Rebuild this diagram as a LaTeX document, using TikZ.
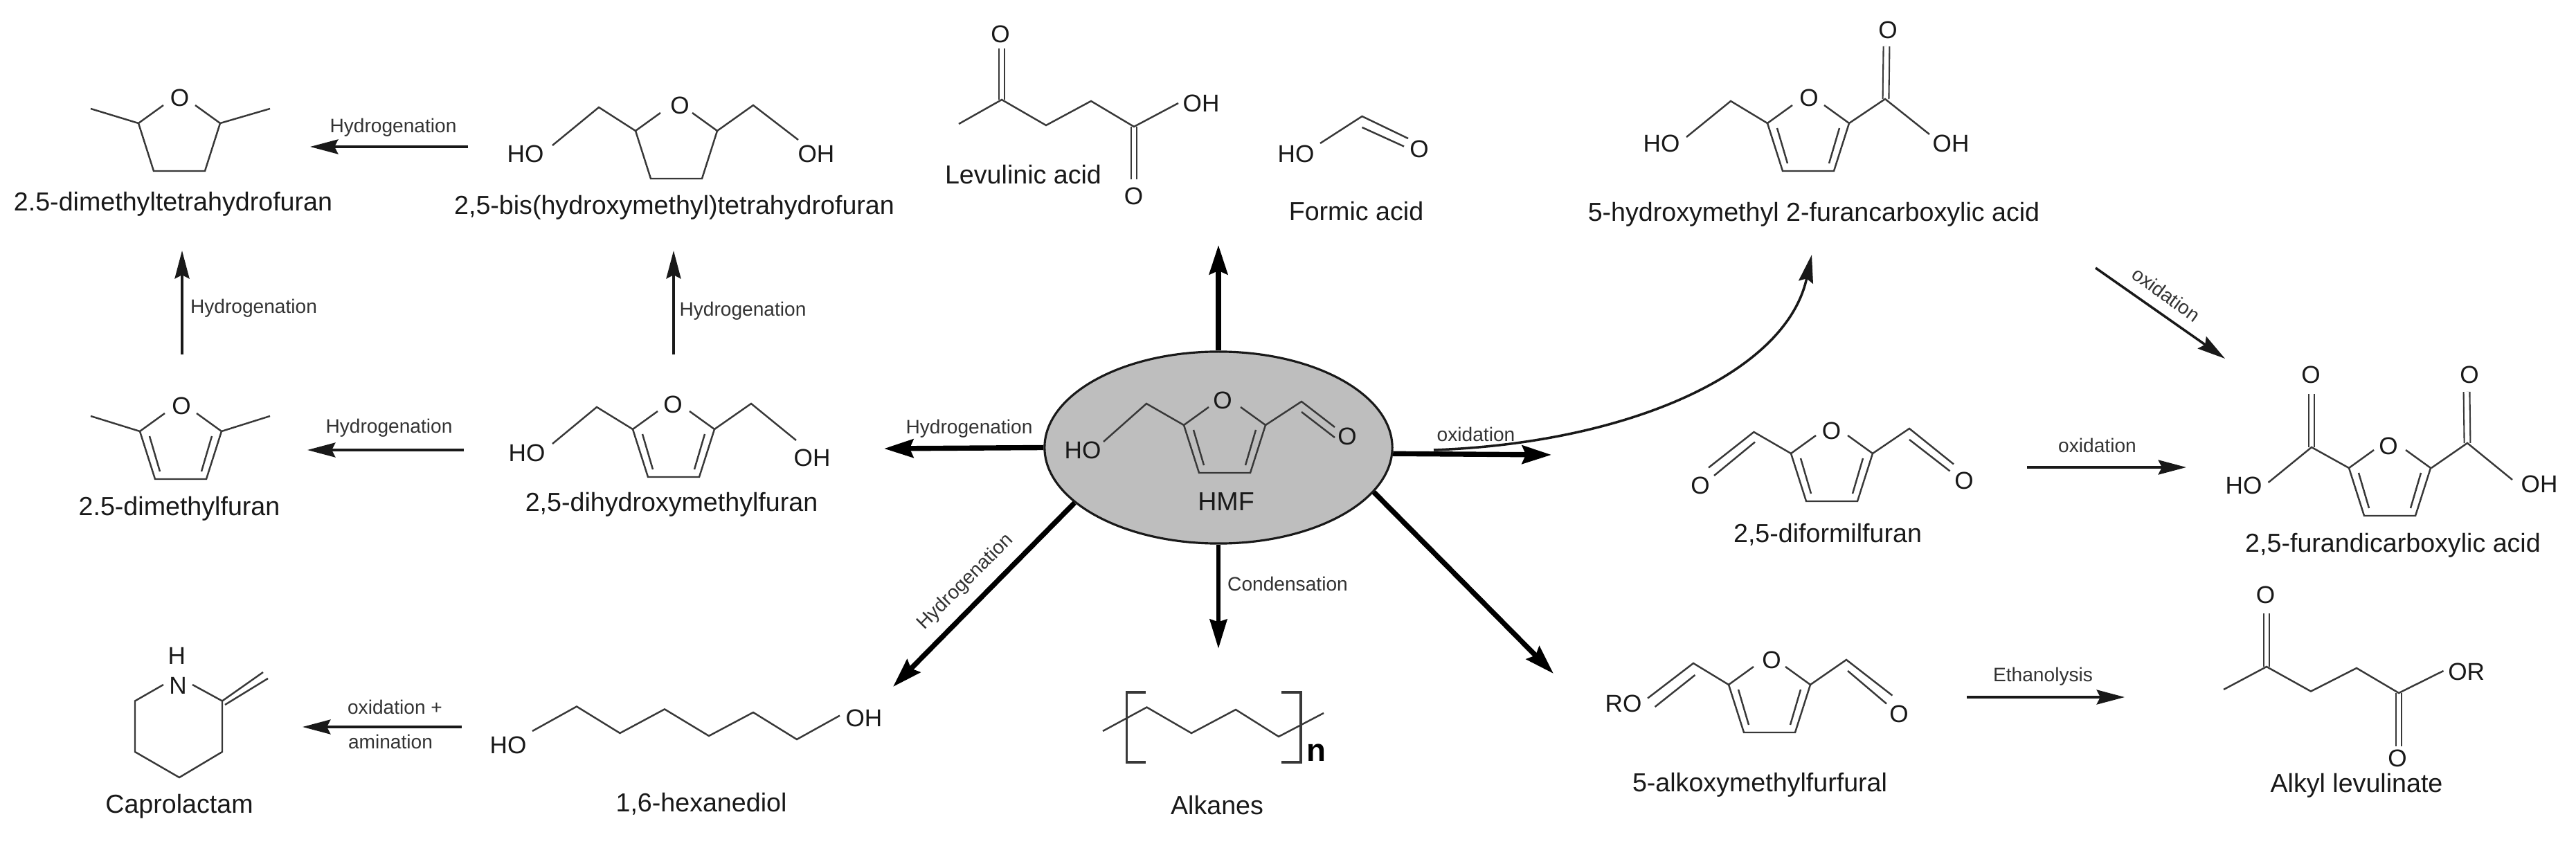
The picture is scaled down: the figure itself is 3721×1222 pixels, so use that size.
\documentclass[tikz,border=0pt]{standalone}
\usepackage{fontspec}
\setmainfont{Liberation Sans}
\usetikzlibrary{arrows.meta,shapes.geometric}
\definecolor{hmfgrey}{HTML}{BEBEBE}
\definecolor{inkc}{HTML}{383838}
\tikzset{
  bond/.style={draw=inkc,line width=0.7pt,line join=miter},
  dbl/.style={draw=inkc,line width=0.6pt,double=white,double distance=1.9pt},
  atom/.style={inner sep=0pt,font=\fontsize{10}{12}\selectfont,text=black!90},
  chem/.style={inner sep=0pt,font=\fontsize{10.7}{13}\selectfont,text=black!90},
  rxn/.style={inner sep=0pt,font=\fontsize{8}{10}\selectfont,text=black!80},
  thinarrow/.style={draw=black!90,line width=1pt,-{Stealth[length=11.5pt,width=6pt,inset=1.5pt]}},
  thickarrow/.style={draw=black,line width=2.1pt,-{Stealth[length=12pt,width=7.5pt,inset=1.5pt]}},
  midarrow/.style={draw=black,line width=1.8pt,-{Stealth[length=12pt,width=7pt,inset=1pt]}},
}
\newcommand{\thfring}[2]{\begin{scope}[shift={(#1,#2)}]
  \draw[bond] (-23,11)--(-59,37)--(-37,106)--(37,106)--(59,37)--(23,11);
\end{scope}}
\newcommand{\furanring}[2]{\begin{scope}[shift={(#1,#2)}]
  \draw[bond] (-23,11)--(-59,37)--(-37,106)--(37,106)--(59,37)--(23,11);
  \draw[bond] (-45,44)--(-30,95) (45,44)--(30,95);
\end{scope}}
\begin{document}
\begin{tikzpicture}[x=0.01cm,y=-0.01cm]
\path[use as bounding box] (0,0) rectangle (3721,1222);

% centre
\node[ellipse,draw=black!90,line width=0.9pt,fill=hmfgrey,minimum width=5.02cm,minimum height=2.77cm,inner sep=0pt] (hmf) at (1760,646.5) {};
\furanring{1769}{577}
\draw[bond] (1710,614)--(1656,583)--(1594,638) (1828,614)--(1880,580)--(1928,617) (1880,595)--(1928,632);
\node[atom] (hmfO) at (1766,578) {O};
\node[atom] (hmfHO) at (1564,650) {HO};
\node[atom] (hmfO2) at (1946,630) {O};
\node[chem] (hmfname) at (1771,725) {HMF};

% 2,5-dimethyltetrahydrofuran
\thfring{259}{141}
\draw[bond] (200,178)--(131,157) (318,178)--(390,157);
\node[atom] (aO) at (259.5,141) {O};
\node[chem] (aname) at (250,295) {2.5-dimethyltetrahydrofuran};

% bis(hydroxymethyl)tetrahydrofuran
\thfring{977}{152}
\draw[bond] (918,189)--(865,155)--(798,210) (1036,189)--(1088,152)--(1153,202);
\node[atom] (bO) at (982,152) {O};
\node[atom] (bHO) at (759,222) {HO};
\node[atom] (bOH) at (1179,222) {OH};
\node[chem] (bname) at (974,300) {2,5-bis(hydroxymethyl)tetrahydrofuran};

% 2,5-dimethylfuran
\furanring{261}{586}
\draw[bond] (202,623)--(131,601) (320,623)--(390,601);
\node[atom] (cO) at (262,586) {O};
\node[chem] (cname) at (259,735) {2.5-dimethylfuran};

% dihydroxymethylfuran
\furanring{973}{583}
\draw[bond] (914,620)--(862,588)--(798,641) (1032,620)--(1085,583)--(1150,636);
\node[atom] (dO) at (972,584) {O};
\node[atom] (dHO) at (761,654) {HO};
\node[atom] (dOH) at (1173,661) {OH};
\node[chem] (dname) at (970,729) {2,5-dihydroxymethylfuran};

% Levulinic acid
\draw[dbl] (1447,144)--(1447,70);
\draw[dbl] (1638,183)--(1638,259);
\draw[bond] (1385,179)--(1447,144)--(1511,181)--(1576,146)--(1638,183)--(1702,149);
\node[atom] (eO) at (1445,49) {O};
\node[atom] (eOH) at (1735,149) {OH};
\node[atom] (eO2) at (1637.5,283.5) {O};
\node[chem] (ename) at (1478,252) {Levulinic acid};

% Formic acid
\draw[bond] (1907,207)--(1967.5,168)--(2034,200) (1967.5,184)--(2028,211.5);
\node[atom] (fHO) at (1872,222) {HO};
\node[atom] (fO) at (2050,215.5) {O};
\node[chem] (fname) at (1959,305) {Formic acid};

% 5-hydroxymethyl 2-furancarboxylic acid
\draw[dbl] (2724,143)--(2725,67);
\furanring{2612}{141}
\draw[bond] (2436,198)--(2500,146)--(2553,178) (2671,178)--(2723,143)--(2787,194);
\node[atom] (gHO) at (2400,207.6) {HO};
\node[atom] (gO) at (2613,141) {O};
\node[atom] (gO2) at (2727,43.5) {O};
\node[atom] (gOH) at (2818,207.6) {OH};
\node[chem] (gname) at (2620,310) {5-hydroxymethyl 2-furancarboxylic acid};

% 2,5-furandicarboxylic acid
\draw[dbl] (3339,646)--(3339,569);
\draw[dbl] (3564,640)--(3563,566);
\furanring{3452}{639}
\draw[bond] (3276.5,697)--(3339,646)--(3393,676) (3512,676)--(3564,640)--(3629,693);
\node[atom] (hO) at (3450,644) {O};
\node[atom] (hO2) at (3338,541) {O};
\node[atom] (hO3) at (3567,541) {O};
\node[atom] (hHO) at (3241,701) {HO};
\node[atom] (hOH) at (3668,699) {OH};
\node[chem] (hname) at (3456.5,788) {2,5-furandicarboxylic acid};

% 2,5-diformilfuran
\furanring{2646}{618}
\draw[bond] (2468,675.5)--(2533.4,624)--(2587,655) (2705,655)--(2758,619)--(2822,670.5);
\draw[bond] (2535,638.5)--(2476,687) (2758,635)--(2816.6,680.5);
\node[atom] (iO) at (2645.5,622) {O};
\node[atom] (iO2) at (2456,701) {O};
\node[atom] (iO3) at (2837,694) {O};
\node[chem] (iname) at (2640,772.5) {2,5-diformilfuran};

% 5-alkoxymethylfurfural
\furanring{2556}{952}
\draw[bond] (2380,1008.6)--(2446,958)--(2497,989) (2615,989)--(2667,953)--(2733.4,1004.6);
\draw[bond] (2448.5,975)--(2390.6,1021) (2669,969)--(2725,1016.5);
\node[atom] (jO) at (2559,953) {O};
\node[atom] (jRO) at (2345,1016.5) {RO};
\node[atom] (jO2) at (2743,1031) {O};
\node[chem] (jname) at (2542,1133.5) {5-alkoxymethylfurfural};

% Alkyl levulinate
\draw[dbl] (3274,963)--(3274,886);
\draw[dbl] (3465,1001)--(3465,1078);
\draw[bond] (3212,996)--(3274,963)--(3338,998.6)--(3404,965)--(3465,1001)--(3529.5,969);
\node[atom] (kO) at (3272.4,859) {O};
\node[atom] (kOR) at (3562.6,970) {OR};
\node[atom] (kO2) at (3463,1095) {O};
\node[chem] (kname) at (3404,1135) {Alkyl levulinate};

% Alkanes
\draw[bond] (1593,1056)--(1656.5,1021.6)--(1721,1059)--(1785,1025)--(1847,1064)--(1912,1030);
\draw[draw=inkc,line width=1pt] (1655,1000)--(1627.5,1000)--(1627.5,1101)--(1655,1101);
\draw[draw=inkc,line width=1pt] (1851,1000)--(1879,1000)--(1879,1101)--(1851,1101);
\node[inner sep=0pt,font=\fontsize{13}{15}\selectfont\bfseries] (lN) at (1901,1087) {n};
\node[chem] (lname) at (1758,1163) {Alkanes};

% 1,6-hexanediol
\draw[bond] (769,1056)--(833,1020.5)--(895.5,1059)--(960,1024.4)--(1024,1063)--(1088,1029)--(1151,1068)--(1213,1033.6);
\node[atom] (mHO) at (734,1076) {HO};
\node[atom] (mOH) at (1248,1037) {OH};
\node[chem] (mname) at (1013,1161) {1,6-hexanediol};

% Caprolactam
\draw[bond] (236,989)--(195,1012.5)--(195,1086)--(259,1123)--(321,1086)--(321,1012.5)--(278,989);
\draw[bond] (321,1012.5)--(380,971) (325,1018)--(387,980);
\node[atom] (nH) at (255.4,947) {H};
\node[atom] (nN) at (257,990) {N};
\node[chem] (nname) at (259,1165) {Caprolactam};

% arrow end points
\coordinate (t1) at (448,212);   \coordinate (s1) at (676,212);
\coordinate (s2) at (263,512);   \coordinate (t2) at (263,362);
\coordinate (s3) at (973,512);   \coordinate (t3) at (973,362);
\coordinate (s4) at (670,650);   \coordinate (t4) at (444,650);
\coordinate (t5) at (1277,648);
\coordinate (t6) at (1760,354);
\coordinate (t7) at (1760,937);
\coordinate (t8) at (1290,992);
\coordinate (t9) at (2244,973);
\coordinate (t10) at (2241,657);
\coordinate (s11) at (2071,650); \coordinate (t11) at (2617,368);
\coordinate (s12) at (3027,387); \coordinate (t12) at (3214,518);
\coordinate (s13) at (2928,675); \coordinate (t13) at (3158,675);
\coordinate (s14) at (2841,1007);\coordinate (t14) at (3069,1007);
\coordinate (s15) at (667,1050); \coordinate (t15) at (437,1050);

\draw[thinarrow] (s1)--(t1);
\draw[thinarrow] (s2)--(t2);
\draw[thinarrow] (s3)--(t3);
\draw[thinarrow] (s4)--(t4);
\draw[thickarrow] (hmf.180)--(t5);
\draw[thickarrow] (hmf.north)--(t6);
\draw[midarrow] (hmf.south)--(t7);
\draw[thickarrow] (hmf.201)--(t8);
\draw[thickarrow] (hmf.-16)--(t9);
\draw[thickarrow] (hmf.-2.4)--(t10);
\draw[thinarrow] (s11) .. controls (2350,640) and (2580,540) .. (t11);
\draw[thinarrow] (s12)--(t12);
\draw[thinarrow] (s13)--(t13);
\draw[thinarrow] (s14)--(t14);
\draw[thinarrow] (s15)--(t15);

% reaction labels
\node[rxn] (r1) at (568,184) {Hydrogenation};
\node[rxn] (r2) at (366.5,445) {Hydrogenation};
\node[rxn] (r3) at (1073,449) {Hydrogenation};
\node[rxn] (r4) at (562,618) {Hydrogenation};
\node[rxn] (r5) at (1400,619) {Hydrogenation};
\node[rxn,rotate=45] (r6) at (1395,841) {Hydrogenation};
\node[rxn] (r7) at (1860,843) {Condensation};
\node[rxn] (r8) at (2132,627) {oxidation};
\node[rxn,rotate=-36] (r9) at (3129,425) {oxidation};
\node[rxn] (r10) at (3029.5,643.6) {oxidation};
\node[rxn] (r11) at (2951,977.6) {Ethanolysis};
\node[rxn] (r12) at (570.5,1021) {oxidation +};
\node[rxn] (r13) at (564,1071) {amination};
\end{tikzpicture}
\end{document}
